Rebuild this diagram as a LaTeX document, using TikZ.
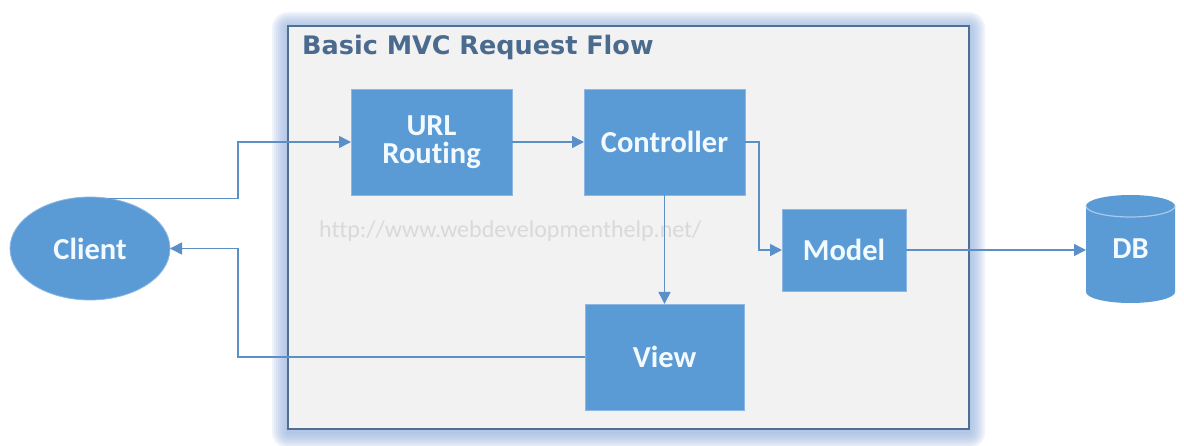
\documentclass[tikz,border=0pt]{standalone}
\usepackage{fontspec}
\setmainfont{Carlito}[Ligatures={NoCommon,NoRequired,NoContextual}]
\newfontfamily\titlefont{DejaVu Sans}
\usetikzlibrary{arrows.meta,calc,shapes.geometric}
\pgfdeclarelayer{glow}
\pgfdeclarelayer{background}
\pgfsetlayers{glow,background,main}
\definecolor{boxblue}{HTML}{5B9BD5}
\definecolor{connblue}{HTML}{5A8FC8}
\definecolor{framefill}{HTML}{F2F2F2}
\definecolor{frameline}{HTML}{4F6F94}
\definecolor{glowblue}{HTML}{98B4E0}
\definecolor{titlecol}{HTML}{4A6A8E}
\definecolor{wmark}{HTML}{D9D9D9}
\definecolor{boxtext}{HTML}{F2FAFF}
\definecolor{caplight}{HTML}{A9C9EC}
\definecolor{boxedge}{HTML}{8DB7E4}
\begin{document}
\begin{tikzpicture}[x=1pt,y=1pt,
  blk/.style={rectangle, fill=boxblue, draw=boxedge, line width=0.8pt, text=boxtext, inner sep=0pt, outer sep=0pt,
    font=\fontsize{30.5}{28}\selectfont\bfseries, align=center},
  oval/.style={ellipse, fill=boxblue, draw=boxedge, line width=0.8pt, text=boxtext, inner sep=0pt, outer sep=0pt,
    font=\fontsize{30.5}{28}\selectfont\bfseries},
  dbtext/.style={rectangle, text=boxtext, inner sep=0pt, outer sep=0pt,
    font=\fontsize{30.5}{28}\selectfont\bfseries},
  conn/.style={draw=connblue, line width=1.5pt, -{Triangle[length=12pt,width=12pt]}},
  framebox/.style={rectangle, draw=frameline, fill=framefill, line width=1.2pt, inner sep=0pt, outer sep=0pt}
]
\useasboundingbox (0,0) rectangle (1184,-446);

% frame
\node[framebox, minimum width=681pt, minimum height=403pt] (frame) at (628.5,-227.5) {};
\begin{pgfonlayer}{glow}
  \fill[white] (0,0) rectangle (1184,-446);
  \foreach \d in {2,4,...,16} {
    \fill[glowblue, opacity=0.14, rounded corners=\d pt]
      ($(frame.north west)+(-\d,\d-2)$) rectangle ($(frame.south east)+(\d,-\d-3)$);
  }
\end{pgfonlayer}

\node[anchor=base west, inner sep=0pt, text=titlecol,
  font=\titlefont\bfseries\fontsize{25.5}{30}\selectfont] (title) at (302,-55) {Basic MVC Request Flow};

\node[anchor=base west, inner sep=0pt, text=wmark,
  font=\fontsize{24}{28}\selectfont] (wm) at (319,-238) {http://www.webdevelopmenthelp.net/};

% nodes
\node[blk, minimum width=161pt, minimum height=106pt] (URL) at (431.5,-142) {URL\\Routing};
\node[blk, minimum width=161pt, minimum height=106pt] (Ctrl) at (664.5,-142) {Controller};
\node[blk, minimum width=124pt, minimum height=82pt] (Model) at (844,-250) {Model};
\node[blk, minimum width=159pt, minimum height=106pt] (View) at (664.5,-357) {View};
\node[oval, minimum width=160pt, minimum height=103pt] (Client) at (90,-248.5) {Client};
\node[dbtext, minimum width=89pt, minimum height=108pt] (DB) at (1130.5,-249) {DB};

\begin{pgfonlayer}{background}
  \fill[boxblue] ([yshift=-11pt]DB.north west) arc[start angle=180,end angle=0,x radius=44.5pt,y radius=11pt]
    -- ([yshift=11pt]DB.south east) arc[start angle=0,end angle=-180,x radius=44.5pt,y radius=11pt] -- cycle;
\end{pgfonlayer}
\draw[caplight, line width=1.2pt] ([yshift=-11pt]DB.north west) arc[start angle=180,end angle=360,x radius=44.5pt,y radius=11pt];

% connectors
\coordinate (bendL) at (238,0);
\coordinate (bendR) at (759,0);
\draw[conn] (Client.70) -- (Client.70 -| bendL) |- (URL.west);
\draw[conn] (URL.east) -- (Ctrl.west);
\draw[conn] (Ctrl.east) -- (Ctrl.east -| bendR) |- (Model.west);
\draw[conn] (Ctrl.south) -- (View.north);
\draw[conn] (Model.east) -- (Model.east -| DB.west);
\draw[conn] (View.west) -- (View.west -| bendL) |- (Client.east);
\end{tikzpicture}
\end{document}
